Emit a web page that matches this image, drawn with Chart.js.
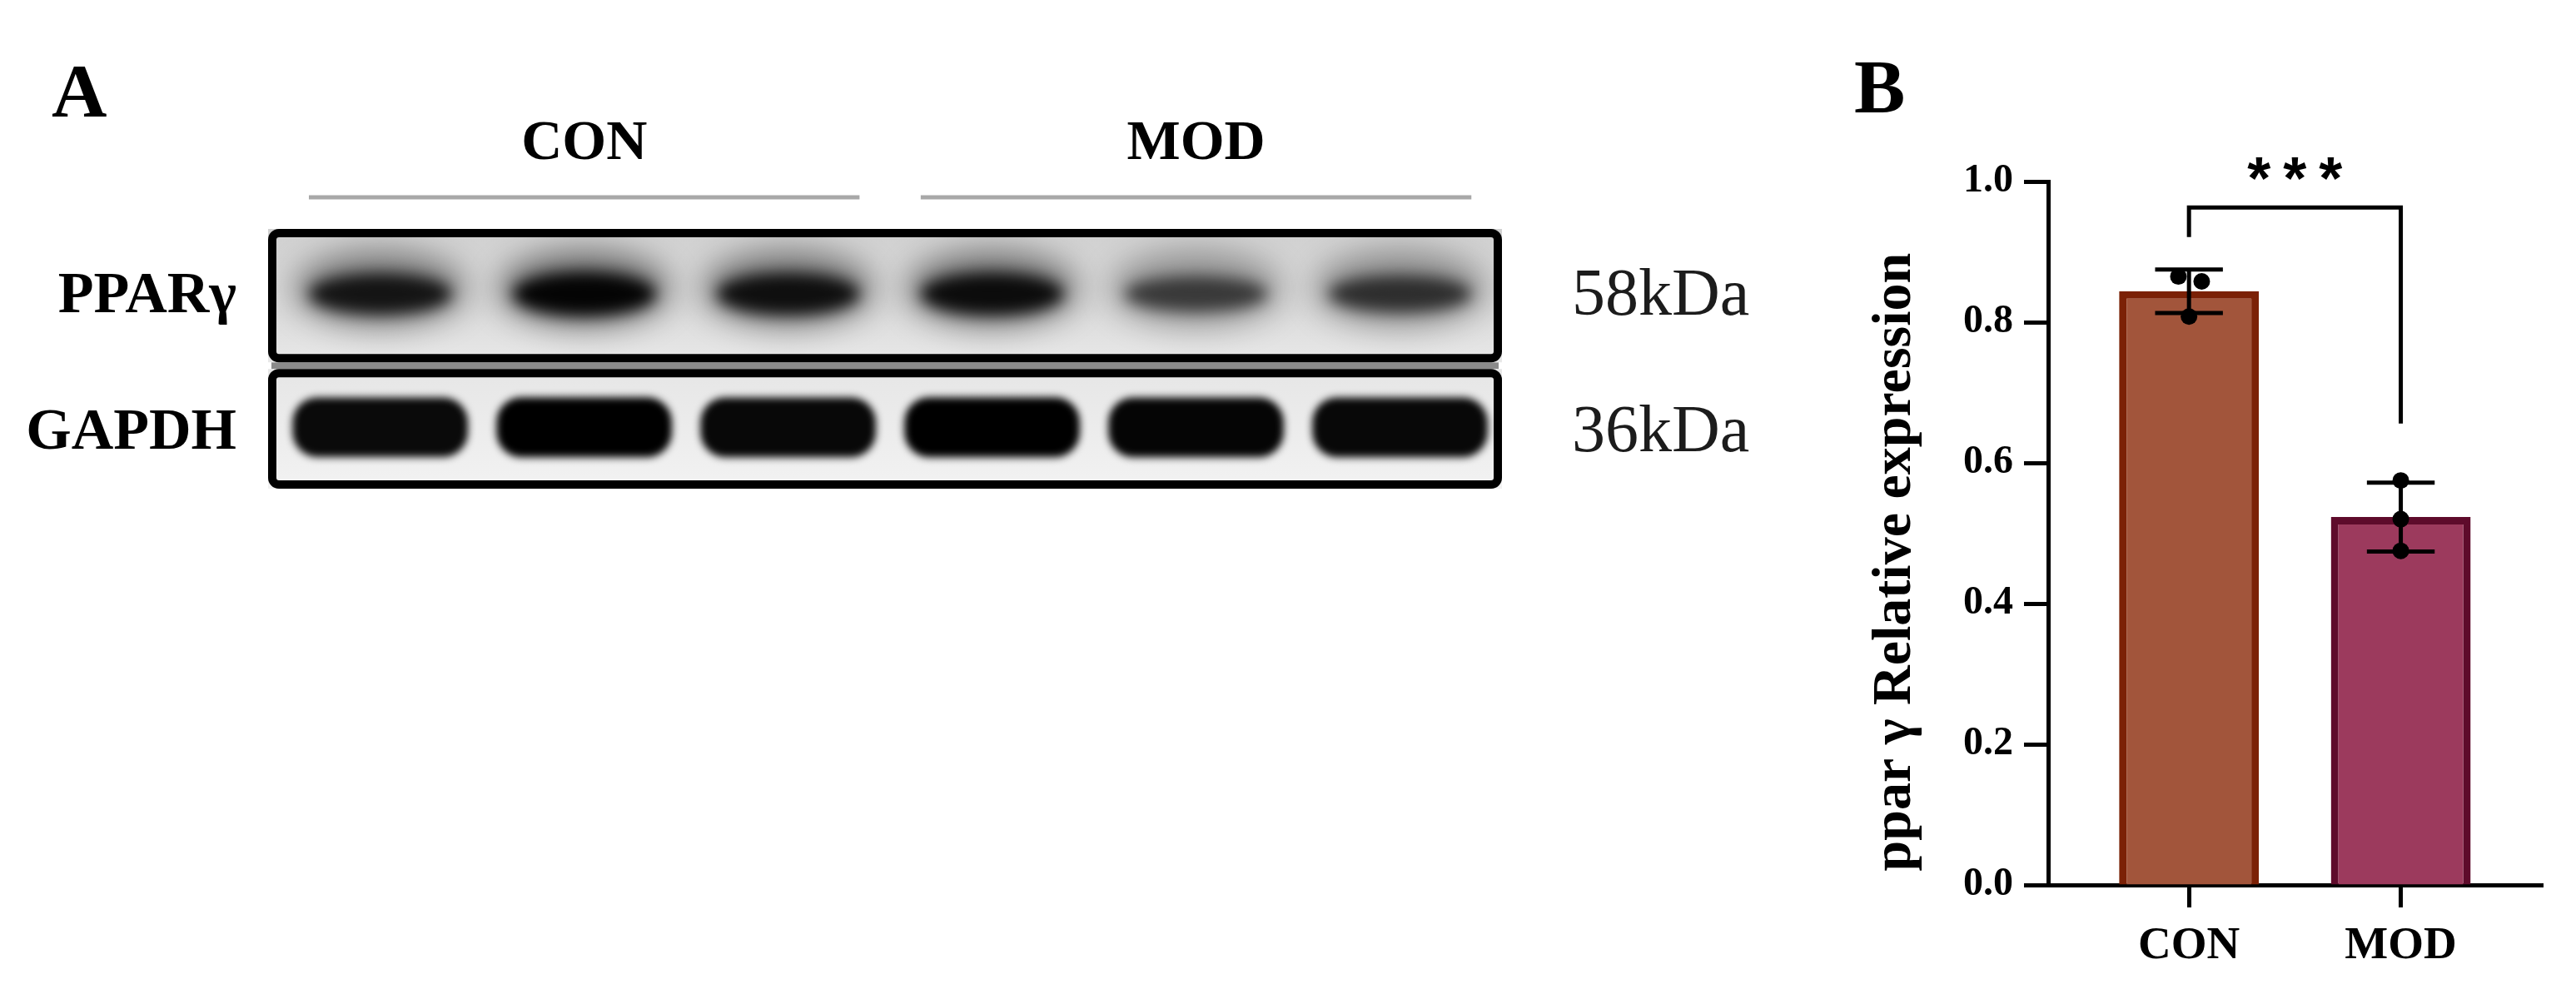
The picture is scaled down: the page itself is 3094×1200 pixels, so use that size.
<!DOCTYPE html>
<html>
<head>
<meta charset="utf-8">
<script src="https://cdn.jsdelivr.net/npm/chart.js@4.4.0/dist/chart.umd.min.js"></script>
<style>
  html, body { margin: 0; padding: 0; background: #fff; }
  body { width: 3094px; height: 1200px; position: relative; overflow: hidden; }
  #blotChart { position: absolute; left: 0; top: 0; }
  #barChart { position: absolute; left: 2150px; top: 0; }
</style>
</head>
<body>
<canvas id="blotChart" width="2150" height="720"></canvas>
<canvas id="barChart" width="944" height="1200"></canvas>
<script>
const serif = "'Liberation Serif', 'Times New Roman', serif";

// panel A - western blot
const lanes = ["CON", "CON", "CON", "MOD", "MOD", "MOD"];
const groups = ["CON", "MOD"];
const proteins = ["PPARγ", "GAPDH"];
const weights = ["58kDa", "36kDa"];
const pparBand = [0.84, 0.96, 0.88, 0.9, 0.62, 0.68];
const gapdhBand = [0.96, 1, 0.97, 1, 0.98, 0.97];

// panel B - relative expression
const categories = ["CON", "MOD"];
const meanValues = [0.844, 0.523];
const sdValues = [0.031, 0.049];
const conPoints = [0.865, 0.858, 0.808];
const modPoints = [0.575, 0.52, 0.475];
const conJitter = [-0.05, 0.06, 0];
const modJitter = [0, 0, 0];
const yTicks = [0, 0.2, 0.4, 0.6, 0.8, 1.0];
const yTitle = " ppar γ Relative expression";
const sig = { from: 0, to: 1, top: 0.963, leftEnd: 0.921, rightEnd: 0.656, starsAt: 1.024, label: "***" };

const barColors = ["#A2553B", "#9C3A5D"];
const barBorders = ["#7B2106", "#5E0B2B"];

// group centres / spans come from the lane list
const groupSpans = groups.map(g => {
  const first = lanes.indexOf(g);
  const last = lanes.lastIndexOf(g);
  return { start: first, end: last + 1 };
});

const bandData = (vals, row) => vals.map((v, i) => ({ x: i + 0.5, y: row, v: v }));

const blotPlugin = {
  id: "blot",
  beforeDatasetsDraw(chart) {
    const { ctx, chartArea: a, scales: { x, y } } = chart;
    const laneW = x.getPixelForValue(1) - x.getPixelForValue(0);
    const boxes = proteins.map((p, r) => {
      const top = r === 0 ? a.top : y.getPixelForValue(r - 0.5) + 4;
      const bottom = r === proteins.length - 1 ? a.bottom : y.getPixelForValue(r + 0.5) - 4;
      return { top, bottom };
    });

    ctx.save();
    // gap between the two strips
    ctx.fillStyle = "#8a8a8a";
    ctx.fillRect(a.left + 4, boxes[0].bottom, a.right - a.left - 8, boxes[1].top - boxes[0].bottom);

    boxes.forEach((b, r) => {
      const g = ctx.createLinearGradient(0, b.top, 0, b.bottom);
      if (r === 0) {
        g.addColorStop(0, "#d0d0d0");
        g.addColorStop(0.6, "#dadada");
        g.addColorStop(1, "#e8e8e8");
      } else {
        g.addColorStop(0, "#e6e6e6");
        g.addColorStop(1, "#f2f2f2");
      }
      ctx.fillStyle = g;
      ctx.fillRect(a.left, b.top, a.right - a.left, b.bottom - b.top);

      ctx.save();
      ctx.beginPath();
      ctx.rect(a.left + 8, b.top + 8, a.right - a.left - 16, b.bottom - b.top - 16);
      ctx.clip();
      chart.data.datasets[r].data.forEach(pt => {
        const cx = x.getPixelForValue(pt.x);
        const cy = y.getPixelForValue(pt.y) - 8;
        const v = pt.v;
        if (r === 0) {
          ctx.filter = "blur(18px)";
          ctx.fillStyle = "rgba(0,0,0," + (0.5 * v) + ")";
          ctx.beginPath();
          ctx.ellipse(cx, cy - 2, laneW * 0.42, 46, 0, 0, 2 * Math.PI);
          ctx.fill();
          ctx.filter = "blur(9px)";
          ctx.fillStyle = "rgba(0,0,0," + v + ")";
          ctx.beginPath();
          ctx.ellipse(cx, cy + 4, laneW * 0.35, 12 + 15 * v, 0, 0, 2 * Math.PI);
          ctx.fill();
        } else {
          const w = laneW * 0.86;
          const h = 62 + 10 * v;
          ctx.filter = "blur(5px)";
          ctx.fillStyle = "rgba(0,0,0," + v + ")";
          ctx.beginPath();
          ctx.roundRect(cx - w / 2, cy - h / 2, w, h, 30);
          ctx.fill();
        }
      });
      ctx.restore();

      ctx.filter = "none";
      ctx.strokeStyle = "#000";
      ctx.lineWidth = 10;
      ctx.beginPath();
      ctx.roundRect(a.left + 5, b.top + 5, a.right - a.left - 10, b.bottom - b.top - 10, 8);
      ctx.stroke();
    });
    ctx.restore();
  },
  afterDraw(chart) {
    const { ctx, chartArea: a, scales: { x2 } } = chart;
    ctx.save();
    ctx.strokeStyle = "#a8a8a8";
    ctx.lineWidth = 5;
    groupSpans.forEach(s => {
      ctx.beginPath();
      ctx.moveTo(x2.getPixelForValue(s.start + 0.15), a.top - 38);
      ctx.lineTo(x2.getPixelForValue(s.end - 0.15), a.top - 38);
      ctx.stroke();
    });
    ctx.fillStyle = "#000";
    ctx.font = "bold 92px " + serif;
    ctx.textBaseline = "alphabetic";
    ctx.fillText("A", 62, 140);
    ctx.restore();
  }
};

new Chart(document.getElementById("blotChart"), {
  type: "scatter",
  data: {
    datasets: [
      { label: proteins[0], data: bandData(pparBand, 0), pointRadius: 0 },
      { label: proteins[1], data: bandData(gapdhBand, 1), pointRadius: 0 }
    ]
  },
  options: {
    responsive: false,
    animation: false,
    events: [],
    layout: { padding: { top: 0, left: 0, right: 0, bottom: 133 } },
    plugins: { legend: { display: false }, tooltip: { enabled: false } },
    scales: {
      x: { type: "linear", min: -0.05, max: lanes.length, display: false },
      x2: {
        type: "linear",
        position: "top",
        min: -0.05,
        max: lanes.length,
        grid: { display: false, drawTicks: false },
        border: { display: false },
        afterBuildTicks: s => { s.ticks = groupSpans.map(g => ({ value: (g.start + g.end) / 2 })); },
        afterFit: s => { s.height = 275; },
        ticks: {
          callback: (v, i) => groups[i],
          font: { family: serif, size: 68, weight: "bold" },
          color: "#000",
          padding: 61,
          maxRotation: 0,
          autoSkip: false
        }
      },
      y: {
        type: "linear",
        position: "left",
        reverse: true,
        min: -0.5,
        max: 1.4,
        grid: { display: false, drawTicks: false },
        border: { display: false },
        afterBuildTicks: s => { s.ticks = proteins.map((p, i) => ({ value: i })); },
        afterFit: s => { s.width = 322; },
        ticks: {
          callback: (v, i) => proteins[i],
          font: { family: serif, size: 70, weight: "bold" },
          color: "#000",
          padding: 38,
          autoSkip: false
        }
      },
      y2: {
        type: "linear",
        position: "right",
        reverse: true,
        min: -0.5,
        max: 1.4,
        grid: { display: false, drawTicks: false },
        border: { display: false },
        afterBuildTicks: s => { s.ticks = weights.map((w, i) => ({ value: i })); },
        afterFit: s => { s.width = 346; },
        ticks: {
          callback: (v, i) => weights[i],
          font: { family: serif, size: 80 },
          color: "#1c1c1c",
          padding: 84,
          autoSkip: false
        }
      }
    }
  },
  plugins: [blotPlugin]
});

// panel B
const errorBars = {
  id: "errorBars",
  afterDatasetDraw(chart, args) {
    if (args.meta.type !== "bar") return;
    const { ctx, scales: { x, y } } = chart;
    const cap = 0.16 * (x.getPixelForValue(1) - x.getPixelForValue(0));
    ctx.save();
    ctx.strokeStyle = "#000";
    ctx.lineWidth = 5;
    meanValues.forEach((m, i) => {
      const px = x.getPixelForValue(i);
      const top = y.getPixelForValue(m + sdValues[i]);
      const bot = y.getPixelForValue(m - sdValues[i]);
      ctx.beginPath();
      ctx.moveTo(px, top); ctx.lineTo(px, bot);
      ctx.moveTo(px - cap, top); ctx.lineTo(px + cap, top);
      ctx.moveTo(px - cap, bot); ctx.lineTo(px + cap, bot);
      ctx.stroke();
    });
    ctx.restore();
  }
};

const bracket = {
  id: "bracket",
  afterDraw(chart) {
    const { ctx, scales: { x, y } } = chart;
    const x1 = x.getPixelForValue(sig.from);
    const x2 = x.getPixelForValue(sig.to);
    const yt = y.getPixelForValue(sig.top);
    ctx.save();
    ctx.strokeStyle = "#000";
    ctx.lineWidth = 5;
    ctx.lineJoin = "miter";
    ctx.beginPath();
    ctx.moveTo(x1, y.getPixelForValue(sig.leftEnd));
    ctx.lineTo(x1, yt);
    ctx.lineTo(x2, yt);
    ctx.lineTo(x2, y.getPixelForValue(sig.rightEnd));
    ctx.stroke();

    ctx.fillStyle = "#000";
    ctx.font = "bold 72px 'Liberation Sans', Arial, sans-serif";
    ctx.textAlign = "center";
    ctx.textBaseline = "alphabetic";
    const mid = (x1 + x2) / 2;
    const sy = y.getPixelForValue(sig.starsAt) + 41;
    sig.label.split("").forEach((c, k, arr) => {
      ctx.fillText(c, mid + (k - (arr.length - 1) / 2) * 43, sy);
    });

    ctx.textAlign = "left";
    ctx.font = "bold 92px " + serif;
    ctx.fillText("B", 77, 135);
    ctx.restore();
  }
};

const dotData = [];
[conPoints, modPoints].forEach((pts, c) => {
  const jit = c === 0 ? conJitter : modJitter;
  pts.forEach((v, k) => dotData.push({ x: c + jit[k], y: v }));
});

new Chart(document.getElementById("barChart"), {
  type: "bar",
  data: {
    datasets: [
      {
        type: "scatter",
        order: 1,
        data: dotData,
        pointRadius: 10,
        pointBackgroundColor: "#000",
        pointBorderWidth: 0
      },
      {
        type: "bar",
        order: 2,
        data: categories.map((c, i) => ({ x: i, y: meanValues[i] })),
        backgroundColor: barColors,
        borderColor: barBorders,
        borderWidth: 9,
        borderSkipped: "start",
        barPercentage: 0.66,
        categoryPercentage: 1
      }
    ]
  },
  options: {
    responsive: false,
    animation: false,
    events: [],
    layout: { padding: { top: 218, right: 40, bottom: 0, left: 0 } },
    plugins: { legend: { display: false }, tooltip: { enabled: false } },
    scales: {
      x: {
        type: "linear",
        min: -0.665,
        max: 1.67,
        offset: false,
        grid: { drawOnChartArea: false, drawTicks: true, tickLength: 27, tickWidth: 5, tickColor: "#000", offset: false },
        border: { display: true, width: 5, color: "#000" },
        afterBuildTicks: s => { s.ticks = categories.map((c, i) => ({ value: i })); },
        afterFit: s => { s.height = 137; },
        ticks: {
          callback: (v, i) => categories[i],
          font: { family: serif, size: 55, weight: "bold" },
          color: "#000",
          padding: 14,
          maxRotation: 0,
          autoSkip: false
        }
      },
      y: {
        type: "linear",
        min: 0,
        max: 1,
        grid: { drawOnChartArea: false, drawTicks: true, tickLength: 29, tickWidth: 5, tickColor: "#000", offset: false },
        border: { display: true, width: 5, color: "#000" },
        afterBuildTicks: s => { s.ticks = yTicks.map(v => ({ value: v })); },
        afterFit: s => { s.width = 310; },
        ticks: {
          callback: v => v.toFixed(1),
          font: { family: serif, size: 48, weight: "bold" },
          color: "#000",
          padding: 13,
          autoSkip: false
        },
        title: {
          display: true,
          text: yTitle,
          align: "start",
          font: { family: serif, size: 66, weight: "bold" },
          color: "#000",
          padding: { top: 87, bottom: 0 }
        }
      }
    }
  },
  plugins: [errorBars, bracket]
});
</script>
</body>
</html>
